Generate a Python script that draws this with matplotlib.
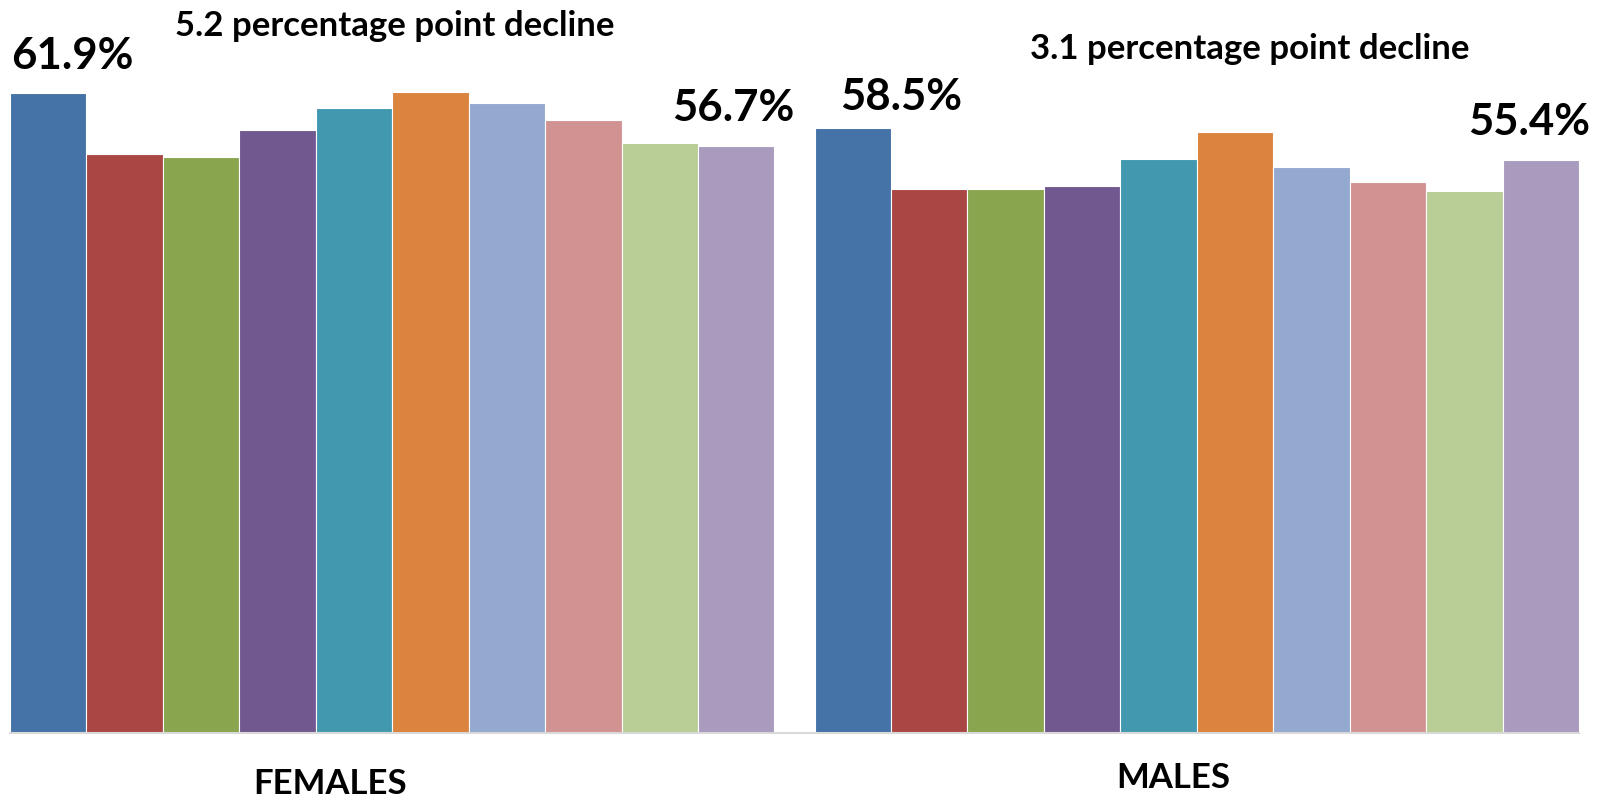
import matplotlib
matplotlib.use('Agg')
import matplotlib.pyplot as plt
import numpy as np

plt.rcParams['font.family'] = ['Lato', 'DejaVu Sans']

# groups and the ten series (one colour each)
groups = ['FEMALES', 'MALES']
females = [61.9, 56.0, 55.7, 58.3, 60.4, 62.0, 60.9, 59.3, 57.0, 56.7]
males = [58.5, 52.6, 52.6, 52.9, 55.5, 58.1, 54.7, 53.3, 52.4, 55.4]
colors = ['#4572A7', '#AA4643', '#89A54E', '#71588F', '#4198AF',
          '#DB843D', '#93A9CF', '#D19392', '#B9CD96', '#A99BBD']
declines = ['5.2 percentage point decline', '3.1 percentage point decline']

fig = plt.figure(figsize=(16.05, 7.99), dpi=100)
ax = fig.add_axes([10 / 1605, 66 / 799, 1569 / 1605, 721 / 799])

n = len(colors)
width = 0.095
offsets = (np.arange(n) - (n - 1) / 2) * width
for i in range(n):
    ax.bar([0 + offsets[i], 1 + offsets[i]], [females[i], males[i]], width,
           color=colors[i], edgecolor='white', linewidth=0.8)

ax.set_xlim(-0.475, 1.475)
ax.set_ylim(0, 69.7)
for s in ['top', 'right', 'left']:
    ax.spines[s].set_visible(False)
ax.spines['bottom'].set_color('#D9D9D9')
ax.spines['bottom'].set_linewidth(1.5)
ax.set_xticks([])
ax.set_yticks([])

# first and last bar labels in each group
labels = [(0, 0, females[0], 24, 37), (0, n - 1, females[-1], -3, 38),
          (1, 0, males[0], 48, 31), (1, n - 1, males[-1], -12, 38)]
for g, i, v, dx, dy in labels:
    ax.annotate(f'{v:.1f}%', (g + offsets[i], v), xytext=(dx, dy),
                textcoords='offset pixels', ha='center', va='center',
                fontsize=31.5, fontweight='bold')

# decline notes and group names
fig.text(395 / 1605, 1 - 26 / 799, declines[0], ha='center', va='center',
         fontsize=25, fontweight='bold')
fig.text(1250 / 1605, 1 - 49 / 799, declines[1], ha='center', va='center',
         fontsize=25, fontweight='bold')
fig.text(330 / 1605, 1 - 784 / 799, groups[0], ha='center', va='center',
         fontsize=25, fontweight='bold')
fig.text(1173 / 1605, 1 - 778 / 799, groups[1], ha='center', va='center',
         fontsize=25, fontweight='bold')

fig.savefig('out.png', dpi=100)
